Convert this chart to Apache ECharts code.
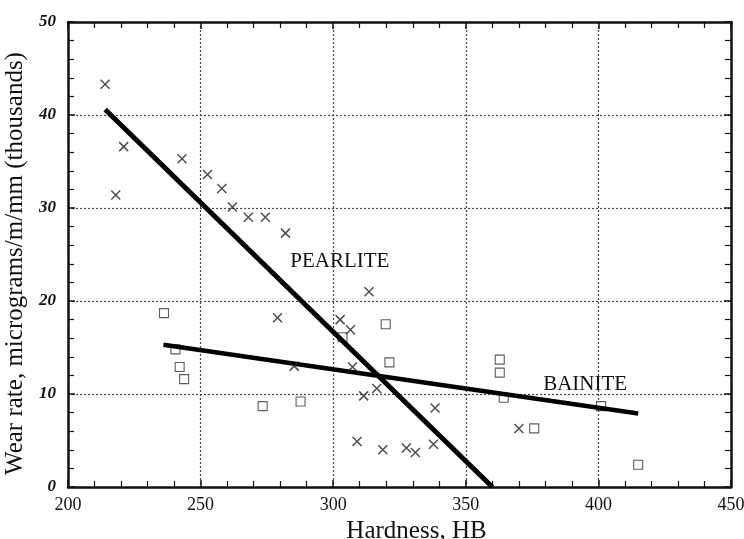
<!DOCTYPE html>
<html>
<head>
<meta charset="utf-8">
<script src="https://cdn.jsdelivr.net/npm/echarts@6/dist/echarts.min.js"></script>
<style>html,body{margin:0;padding:0;background:#fff}#c{width:744px;height:539px}</style>
</head>
<body>
<div id="c"></div>
<script>
// Data
const xTicks = [200, 250, 300, 350, 400, 450];
const yTicks = [0, 10, 20, 30, 40, 50];

const pearlitePoints = [
  [214, 43.3], [221, 36.6], [218, 31.4], [243, 35.3], [252.6, 33.6],
  [258, 32.1], [262, 30.1], [268, 29.0], [274.4, 29.0], [282, 27.3],
  [313.5, 21.0], [279, 18.2], [302.6, 18.0], [306.5, 16.9], [307.3, 12.9],
  [285.3, 13.0], [316.4, 10.6], [311.5, 9.8], [338.4, 8.5], [309, 4.9],
  [318.7, 4.0], [327.6, 4.2], [331, 3.7], [337.8, 4.6], [370, 6.3]
];
const bainitePoints = [
  [236.2, 18.7], [240.5, 14.8], [242.1, 12.9], [243.8, 11.6], [273.4, 8.7],
  [287.7, 9.2], [319.8, 17.5], [321.2, 13.4], [303.5, 16.1], [362.8, 13.7],
  [362.8, 12.3], [364.3, 9.6], [375.8, 6.3], [401, 8.7], [415, 2.4]
];
const pearliteFit = [[214, 40.6], [360, 0]];
const bainiteFit = [[236, 15.3], [415, 7.9]];
const labelPearlite = { name: 'PEARLITE', coord: [302.5, 24.2] };
const labelBainite = { name: 'BAINITE', coord: [395, 11.0] };

const serif = 'Liberation Serif';
const chart = echarts.init(document.getElementById('c'), null, { renderer: 'canvas' });

function xAx(pos, showLabel) {
  return {
    type: 'value', position: pos, min: 200, max: 450, interval: 50,
    axisLine: { show: true, onZero: false, lineStyle: { color: '#111', width: 2.5 } },
    axisTick: { show: true, inside: true, length: 7, lineStyle: { color: '#111', width: 1.5 } },
    minorTick: { show: true, splitNumber: 5, length: 6, lineStyle: { color: '#111', width: 1.2 } },
    splitLine: { show: pos === 'bottom', lineStyle: { color: '#444', type: [2, 2], width: 1.2 } },
    axisLabel: { show: showLabel, margin: 9, fontFamily: serif, fontSize: 18, color: '#111',
      formatter: v => xTicks.includes(v) ? String(v) : '' },
    name: showLabel ? 'Hardness, HB' : '', nameLocation: 'middle', nameGap: 26,
    nameTextStyle: { fontFamily: serif, fontSize: 25, color: '#111', padding: [0, 0, 0, 34] }
  };
}
function yAx(pos, showLabel) {
  return {
    type: 'value', position: pos, min: 0, max: 50, interval: 10,
    axisLine: { show: true, onZero: false, lineStyle: { color: '#111', width: 2.5 } },
    axisTick: { show: true, inside: true, length: 7, lineStyle: { color: '#111', width: 1.5 } },
    minorTick: { show: true, splitNumber: 5, length: 6, lineStyle: { color: '#111', width: 1.2 } },
    splitLine: { show: pos === 'left', lineStyle: { color: '#444', type: [2, 2], width: 1.2 } },
    axisLabel: { show: showLabel, margin: 12, fontFamily: serif, fontSize: 17, fontWeight: 'bold',
      fontStyle: 'italic', color: '#111', formatter: v => yTicks.includes(v) ? String(v) : '' },
    name: showLabel ? 'Wear rate, micrograms/m/mm (thousands)' : '', nameLocation: 'middle', nameGap: 31,
    nameTextStyle: { fontFamily: serif, fontSize: 25, color: '#111', padding: [0, 18, 0, 0] }
  };
}

const crossPath = 'path://M0,0L10,10M10,0L0,10';

chart.setOption({
  animation: false,
  backgroundColor: '#fff',
  grid: { left: 68, right: 13, top: 22, bottom: 52, outerBoundsMode: 'none', containLabel: false },
  xAxis: [xAx('bottom', true), xAx('top', false)],
  yAxis: [yAx('left', true), yAx('right', false)],
  series: [
    {
      type: 'scatter', name: 'Pearlite', data: pearlitePoints, symbol: crossPath, symbolSize: 9,
      itemStyle: { color: 'rgba(0,0,0,0)', borderColor: '#222', borderWidth: 1.5 }, z: 5
    },
    {
      type: 'scatter', name: 'Bainite', data: bainitePoints, symbol: 'rect', symbolSize: 9,
      itemStyle: { color: '#fff', borderColor: '#333', borderWidth: 1.1 }, z: 3
    },
    {
      type: 'line', data: pearliteFit, symbol: 'none', z: 4,
      lineStyle: { color: '#000', width: 5 },
      markPoint: {
        symbol: 'circle', symbolSize: 0,
        label: { show: true, formatter: '{b}', fontFamily: serif, fontSize: 21, color: '#111' },
        data: [labelPearlite]
      }
    },
    {
      type: 'line', data: bainiteFit, symbol: 'none', z: 4,
      lineStyle: { color: '#000', width: 4.5 },
      markPoint: {
        symbol: 'circle', symbolSize: 0,
        label: { show: true, formatter: '{b}', fontFamily: serif, fontSize: 21, color: '#111' },
        data: [labelBainite]
      }
    }
  ]
});
</script>
</body>
</html>
